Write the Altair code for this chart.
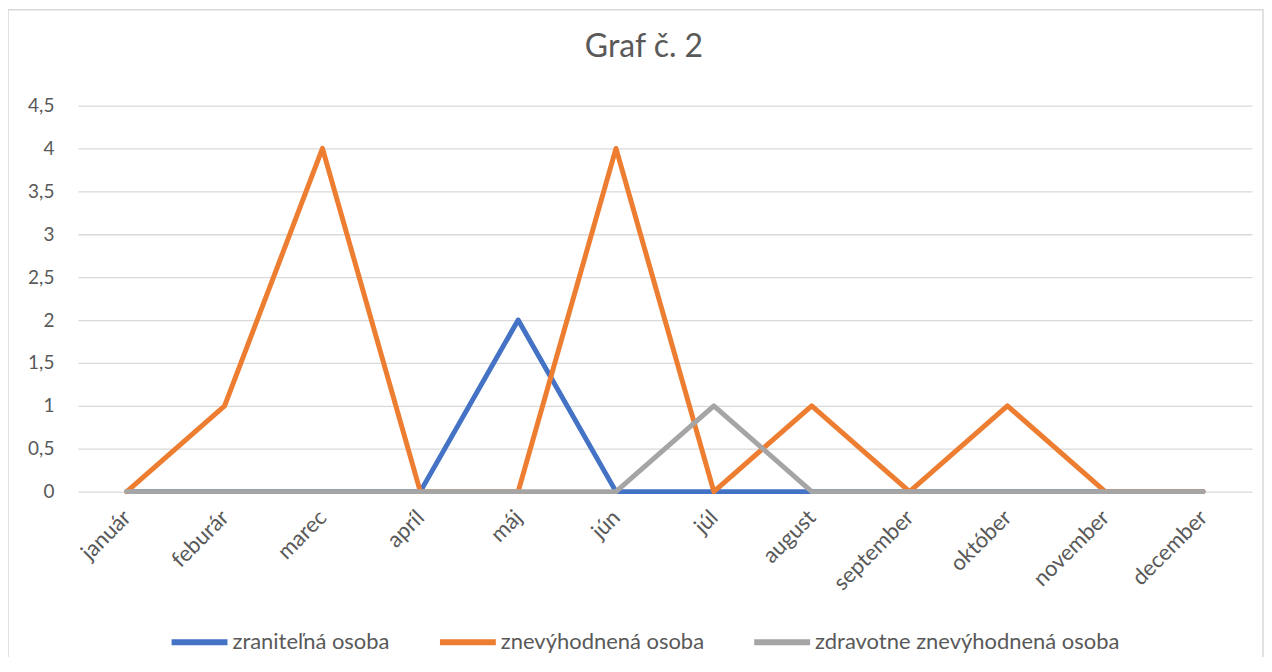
import altair as alt
import pandas as pd

months = ["január", "feburár", "marec", "apríl", "máj", "jún", "júl",
          "august", "september", "október", "november", "december"]
series_names = ["zraniteľná osoba", "znevýhodnená osoba", "zdravotne znevýhodnená osoba"]
zranitelna = [0, 0, 0, 0, 2, 0, 0, 0, 0, 0, 0, 0]
znevyhodnena = [0, 1, 4, 0, 0, 4, 0, 1, 0, 1, 0, 0]
zdravotne = [0, 0, 0, 0, 0, 0, 1, 0, 0, 0, 0, 0]
colors = ["#4472C4", "#ED7D31", "#A5A5A5"]

rows = []
for name, vals in zip(series_names, [zranitelna, znevyhodnena, zdravotne]):
    for m, v in zip(months, vals):
        rows.append({"mesiac": m, "pocet": v, "seria": name})
df = pd.DataFrame(rows)

FONT = "Lato, Calibri, sans-serif"
TXT = "#595959"

x_enc = alt.X("mesiac:N", sort=months, title=None,
              scale=alt.Scale(type="point", padding=0.5),
              axis=alt.Axis(labelAngle=-45, labelAlign="right", labelBaseline="middle",
                            labelPadding=22, ticks=False, domain=False, grid=False,
                            labelFontSize=22, labelColor=TXT, labelFont=FONT))
y_enc = alt.Y("pocet:Q", title=None,
              scale=alt.Scale(domain=[0, 4.5], nice=False),
              axis=alt.Axis(values=[0, 0.5, 1, 1.5, 2, 2.5, 3, 3.5, 4, 4.5],
                            labelExpr="replace(format(datum.value, '~g'), '.', ',')",
                            ticks=False, domain=False, gridColor="#D9D9D9", gridWidth=1.3,
                            labelPadding=24, labelFontSize=19, labelColor=TXT, labelFont=FONT))
color_enc = alt.Color("seria:N", title=None,
                      scale=alt.Scale(domain=series_names, range=colors),
                      legend=alt.Legend(orient="none", direction="horizontal",
                                        legendX=91, legendY=507,
                                        symbolType="stroke", symbolSize=3136,
                                        symbolStrokeWidth=6, columnPadding=38,
                                        labelOffset=2, labelFontSize=22,
                                        labelColor=TXT, labelFont=FONT,
                                        labelLimit=500))

border = alt.Chart(pd.DataFrame({"a": [0]})).mark_rect(
    fill=None, stroke="#D9D9D9", strokeWidth=1.5
).encode(x=alt.value(-70), x2=alt.value(1188), y=alt.value(-96), y2=alt.value(560))

layers = [border]
for name in series_names:
    layers.append(
        alt.Chart(df).transform_filter(alt.datum.seria == name)
        .mark_line(strokeWidth=5, strokeCap="round", strokeJoin="round")
        .encode(x=x_enc, y=y_enc, color=color_enc)
    )

chart = alt.layer(*layers).properties(
    width=1177, height=387,
    padding={"left": 70, "top": 97, "right": 12, "bottom": 165},
    autosize=alt.AutoSizeParams(type="none"),
    title=alt.TitleParams("Graf č. 2", font=FONT, fontSize=32, fontWeight="normal",
                          color=TXT, anchor="middle", frame="group", dx=-21, offset=-55)
).configure_view(stroke=None)

chart.save("out.html", embed_options={"renderer": "svg", "actions": False})
